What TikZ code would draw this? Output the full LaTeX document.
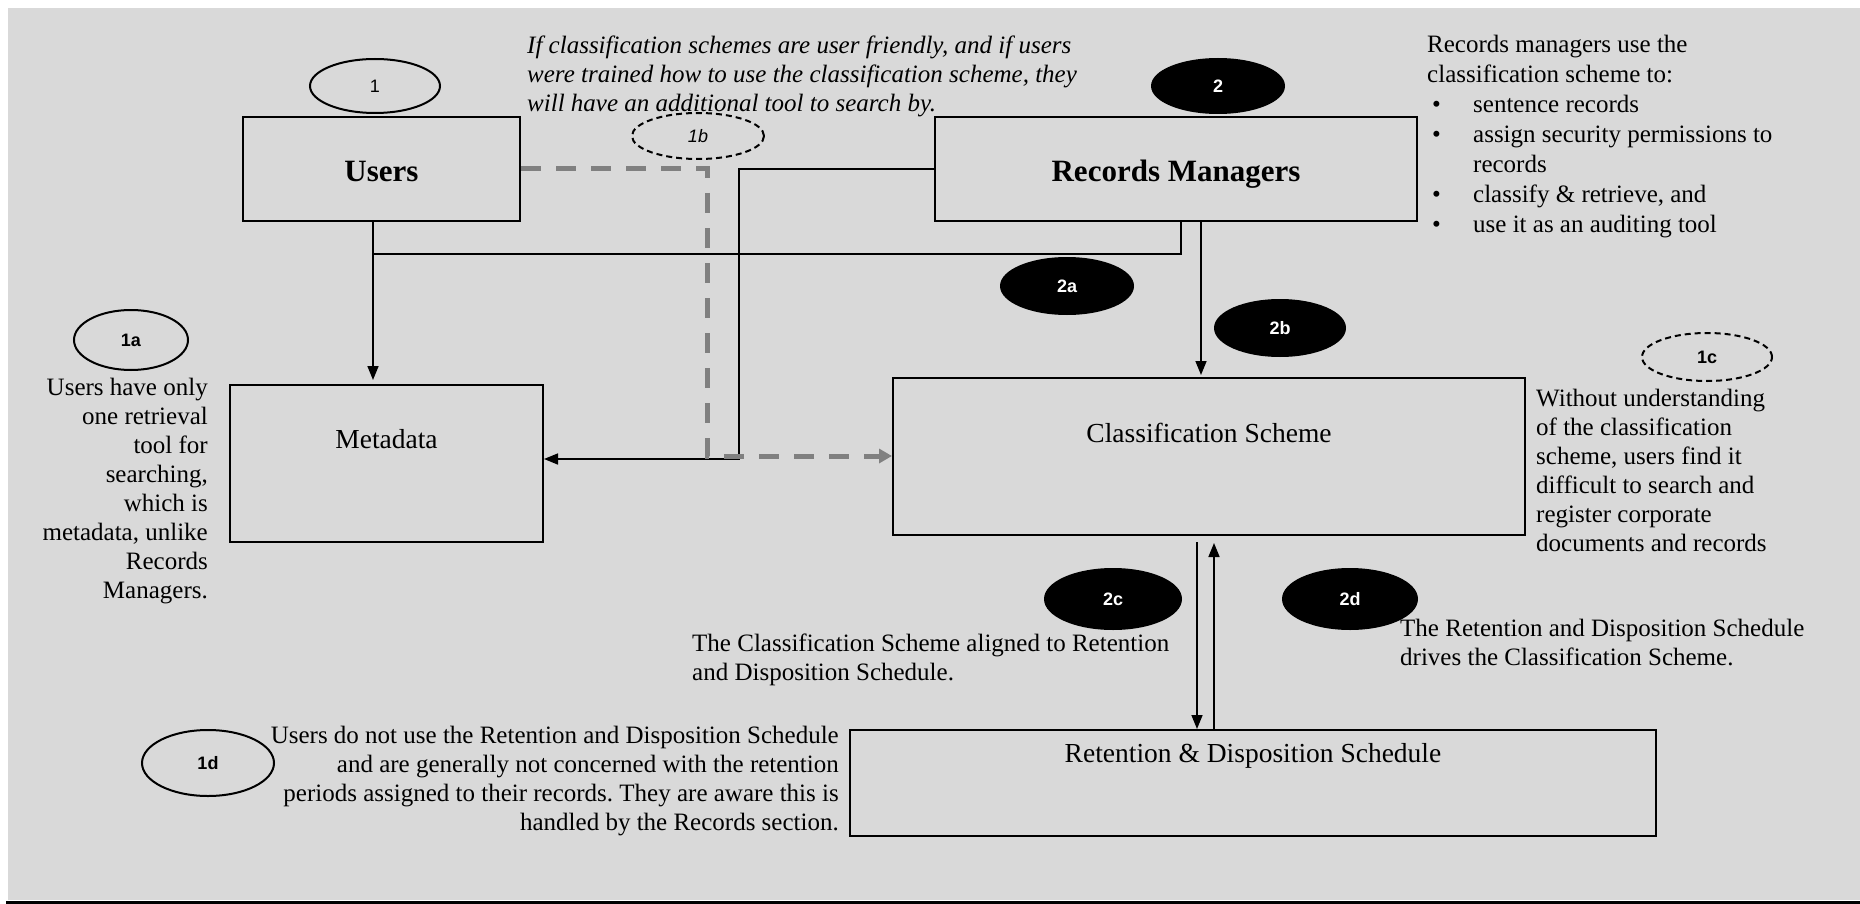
\documentclass[tikz,border=0pt]{standalone}
\usepackage{fontspec}
\setmainfont{Liberation Serif}
\newfontfamily\labelfont{Liberation Sans}
\usetikzlibrary{shapes.geometric,arrows.meta}
\frenchspacing

\definecolor{panel}{HTML}{D9D9D9}
\definecolor{dashgray}{HTML}{808080}

\begin{document}
\begin{tikzpicture}[x=1pt,y=-1pt,
  box/.style={draw, line width=2pt, inner sep=0pt},
  boxtitle/.style={anchor=base, font=\bfseries\fontsize{31}{36}\selectfont},
  boxtext/.style={anchor=base, font=\fontsize{27.5}{32}\selectfont},
  body/.style={inner sep=0pt, font=\fontsize{25}{29}\selectfont},
  tag/.style={ellipse, draw, line width=2pt, inner sep=0pt,
    font=\labelfont\bfseries\fontsize{18}{20}\selectfont},
  darktag/.style={tag, fill=black, text=white},
  dashtag/.style={tag, dash pattern=on 6pt off 4pt},
  conn/.style={line width=1.6pt},
  arr/.style={-{Triangle[length=14pt,width=11pt]}},
  gconn/.style={draw=dashgray, line width=5pt, dash pattern=on 20pt off 15pt,
    -{Triangle[length=13pt,width=14pt]}}
]
\useasboundingbox (0,0) rectangle (1860,904);
% page background and rule
\fill[panel] (8,8) rectangle (1860,900);
\draw[line width=3pt] (6,902.5) -- (1860,902.5);

% boxes
\node[box, minimum width=277, minimum height=104] (users) at (381.5,169) {};
\node[box, minimum width=482, minimum height=104] (rm) at (1176,169) {};
\node[box, minimum width=313, minimum height=157] (meta) at (386.5,463.5) {};
\node[box, minimum width=632, minimum height=157] (cls) at (1209,456.5) {};
\node[box, minimum width=806, minimum height=106] (ret) at (1253,783) {};

\node[boxtitle] (usersT) at ([yshift=-66pt]users.north) {Users};
\node[boxtitle] (rmT) at ([yshift=-66pt]rm.north) {Records Managers};
\node[boxtext] (metaT) at ([yshift=-64pt]meta.north) {Metadata};
\node[boxtext] (clsT) at ([yshift=-65pt]cls.north) {Classification Scheme};
\node[boxtext] (retT) at ([yshift=-33pt]ret.north) {Retention \& Disposition Schedule};

% numbered tags
\node[tag, font=\labelfont\fontsize{18}{20}\selectfont, minimum width=130, minimum height=54] (t1) at (375,86) {1};
\node[darktag, minimum width=132, minimum height=54] (t2) at (1218,86) {2};
\node[darktag, minimum width=132, minimum height=56] (t2a) at (1067,286) {2a};
\node[darktag, minimum width=130, minimum height=56] (t2b) at (1280,328) {2b};
\node[tag, minimum width=114, minimum height=60] (t1a) at (131,340) {1a};
\node[dashtag, font=\labelfont\itshape\fontsize{18}{20}\selectfont, minimum width=132, minimum height=46] (t1b) at (698,136) {1b};
\node[dashtag, minimum width=130, minimum height=48] (t1c) at (1707,357) {1c};
\node[darktag, minimum width=136, minimum height=60] (t2c) at (1113,599) {2c};
\node[darktag, minimum width=134, minimum height=60] (t2d) at (1350,599) {2d};
\node[tag, minimum width=132, minimum height=66] (t1d) at (208,763) {1d};

% notes
\node[body, font=\itshape\fontsize{25}{29}\selectfont, anchor=north west, align=left] (n1b) at (527,36)
  {If classification schemes are user friendly, and if users\\
   were trained how to use the classification scheme, they\\
   will have an additional tool to search by.};
\node[body, font=\fontsize{25}{30}\selectfont, anchor=north west, align=left] (n2) at (1427,35)
  {Records managers use the\\
   classification scheme to:\\
   \makebox[46pt][l]{\hspace{5pt}\textbullet}sentence records\\
   \makebox[46pt][l]{\hspace{5pt}\textbullet}assign security permissions to\\
   \makebox[46pt][l]{}records\\
   \makebox[46pt][l]{\hspace{5pt}\textbullet}classify \& retrieve, and\\
   \makebox[46pt][l]{\hspace{5pt}\textbullet}use it as an auditing tool};
\node[body, anchor=north east, align=right] (n1a) at (208,378)
  {Users have only\\ one retrieval\\ tool for\\ searching,\\ which is\\
   metadata, unlike\\ Records\\ Managers.};
\node[body, anchor=north west, align=left] (n1c) at (1536,389)
  {Without understanding\\ of the classification\\ scheme, users find it\\
   difficult to search and\\ register corporate\\ documents and records};
\node[body, anchor=north west, align=left] (n2c) at (692,634)
  {The Classification Scheme aligned to Retention\\ and Disposition Schedule.};
\node[body, anchor=north west, align=left] (n2d) at (1400,619)
  {The Retention and Disposition Schedule\\ drives the Classification Scheme.};
\node[body, anchor=north east, align=right] (n1d) at (839,726)
  {Users do not use the Retention and Disposition Schedule\\
   and are generally not concerned with the retention\\
   periods assigned to their records. They are aware this is\\
   handled by the Records section.};

% junction points of the connectors
\coordinate (uj) at (373,254);
\coordinate (rj) at (1181,254);
\coordinate (mj) at (739,459);
\coordinate (gj) at (707,456);
\coordinate (cj) at (1201,300);
\coordinate (dn) at (1197,542);
\coordinate (up) at (1214,543);

% connectors
\draw[conn, arr] (users.south -| uj) -- (uj) -- ([yshift=4pt]meta.north -| uj);
\draw[conn] (rm.south -| rj) -- (rj) -- (uj);
\draw[conn, arr] (rm.west) -| (mj) -- (meta.east |- mj);
\draw[gconn] (users.east) -| (gj) -- (cls.west |- gj);
\draw[conn, arr] (rm.south -| cj) -- ([yshift=2pt]cls.north -| cj);
\draw[conn, arr] (dn) -- (ret.north -| dn);
\draw[conn, arr] (ret.north -| up) -- (up);
\end{tikzpicture}
\end{document}
